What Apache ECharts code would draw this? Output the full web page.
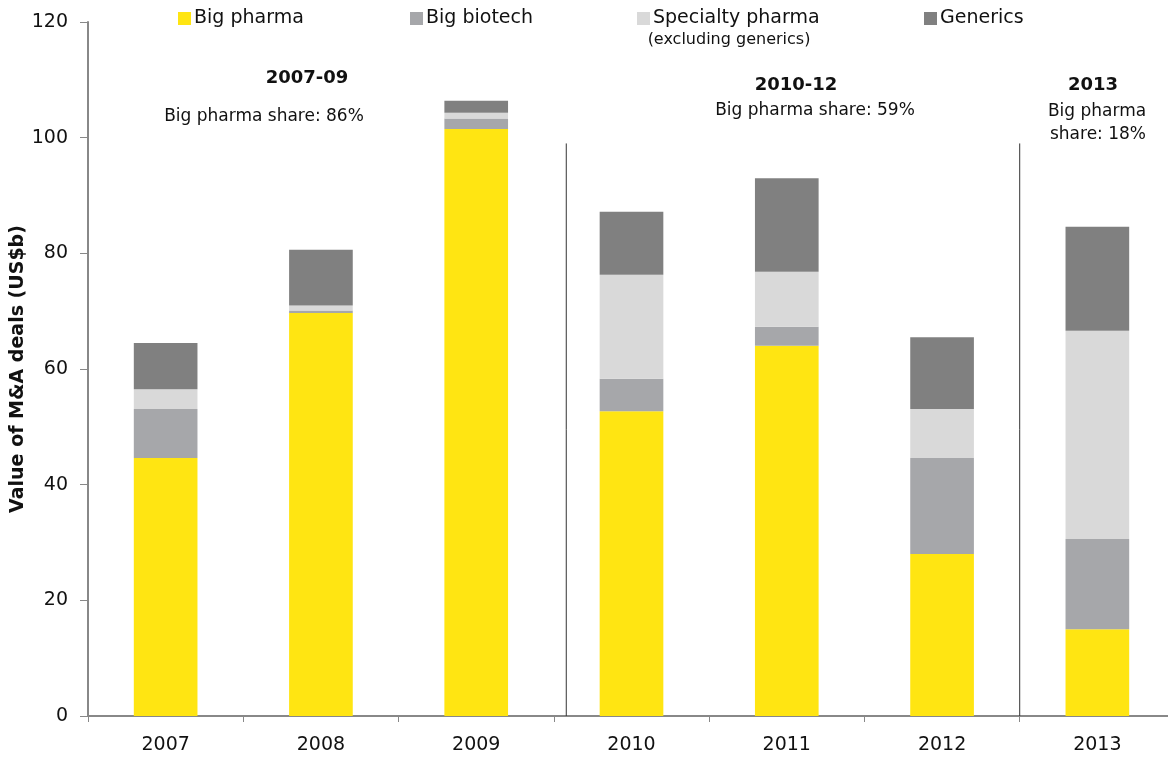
<!DOCTYPE html>
<html>
<head>
<meta charset="utf-8">
<script src="https://cdn.jsdelivr.net/npm/echarts@6/dist/echarts.min.js"></script>
<style>
  html, body { margin: 0; padding: 0; background: #fff; }
  #chart { width: 1168px; height: 757px; }
</style>
</head>
<body>
<div id="chart"></div>
<script>
// Value of pharma/biotech M&A deals by acquirer type (US$b)
const years = ['2007', '2008', '2009', '2010', '2011', '2012', '2013'];
const bigPharma = [44.6, 69.7, 101.5, 52.7, 64.0, 28.0, 15.0];
const bigBiotech = [8.5, 0.4, 1.8, 5.6, 3.3, 16.6, 15.6];
const specialtyPharma = [3.4, 0.9, 1.0, 18.0, 9.5, 8.5, 36.0];
const generics = [8.0, 9.6, 2.1, 10.9, 16.2, 12.4, 18.0];

// period separators, on a 0..7 scale across the category band
const dividerPositions = [3.08, 6.0];
const dividerTop = 99;

const FONT = 'DejaVu Sans';
const colors = {
  'Big pharma': '#ffe512',
  'Big biotech': '#a6a7aa',
  'Specialty pharma': '#d9d9d9',
  'Generics': '#808080'
};

const chart = echarts.init(document.getElementById('chart'), null, { renderer: 'canvas' });

function barSeries(name, values) {
  return {
    name: name,
    type: 'bar',
    stack: 'deals',
    data: values,
    barWidth: '41%',
    itemStyle: { color: colors[name] },
    emphasis: { disabled: true }
  };
}

function legendItem(name, left) {
  return {
    data: [{ name: name, icon: 'rect' }],
    left: left,
    top: 9,
    padding: 0,
    itemWidth: 13,
    itemHeight: 13,
    itemGap: 0,
    selectedMode: false,
    textStyle: { fontFamily: FONT, fontSize: 19, color: '#111', padding: [0, 0, 0, -2] }
  };
}

const dividerSeries = dividerPositions.map(function (x) {
  return {
    type: 'line',
    xAxisIndex: 1,
    data: [[x, 0], [x, dividerTop]],
    symbol: 'none',
    silent: true,
    lineStyle: { color: '#333', width: 1 },
    z: 5
  };
});

function annotation(text, x, y, size, bold) {
  return {
    type: 'text',
    x: x,
    y: y,
    silent: true,
    style: {
      text: text,
      fontFamily: FONT,
      fontSize: size,
      fontWeight: bold ? 'bold' : 'normal',
      fill: '#111',
      align: 'center',
      verticalAlign: 'middle'
    }
  };
}

chart.setOption({
  animation: false,
  backgroundColor: '#ffffff',
  grid: { left: 88, right: -7, top: 22, bottom: 41, containLabel: false, outerBoundsMode: 'none' },
  legend: [
    legendItem('Big pharma', 178),
    legendItem('Big biotech', 410),
    legendItem('Specialty pharma', 637),
    legendItem('Generics', 924)
  ],
  xAxis: [
    {
      type: 'category',
      data: years,
      axisLine: { lineStyle: { color: '#888', width: 2 } },
      axisTick: { show: true, length: 6, lineStyle: { color: '#888', width: 1 } },
      axisLabel: { fontFamily: FONT, fontSize: 19, color: '#111', margin: 20 },
      splitLine: { show: false }
    },
    {
      type: 'value',
      min: 0,
      max: 7,
      show: false
    }
  ],
  yAxis: {
    type: 'value',
    min: 0,
    max: 120,
    interval: 20,
    name: 'Value of M&A deals (US$b)',
    nameLocation: 'middle',
    nameGap: 60,
    nameMoveOverlap: false,
    nameTextStyle: { fontFamily: FONT, fontSize: 19, fontWeight: 'bold', color: '#111' },
    axisLine: { show: true, lineStyle: { color: '#888', width: 2 } },
    axisTick: { show: true, length: 8, lineStyle: { color: '#888', width: 1 } },
    axisLabel: { fontFamily: FONT, fontSize: 19, color: '#111', margin: 20 },
    splitLine: { show: false }
  },
  series: [
    barSeries('Big pharma', bigPharma),
    barSeries('Big biotech', bigBiotech),
    barSeries('Specialty pharma', specialtyPharma),
    barSeries('Generics', generics)
  ].concat(dividerSeries),
  graphic: [
    annotation('(excluding generics)', 729, 40, 16, false),
    annotation('2007-09', 307, 78, 18, true),
    annotation('Big pharma share: 86%', 264, 117, 17, false),
    annotation('2010-12', 796, 85, 18, true),
    annotation('Big pharma share: 59%', 815, 111, 17, false),
    annotation('2013', 1093, 85, 18, true),
    annotation('Big pharma', 1097, 112, 17, false),
    annotation('share: 18%', 1098, 135, 17, false)
  ]
});
</script>
</body>
</html>
